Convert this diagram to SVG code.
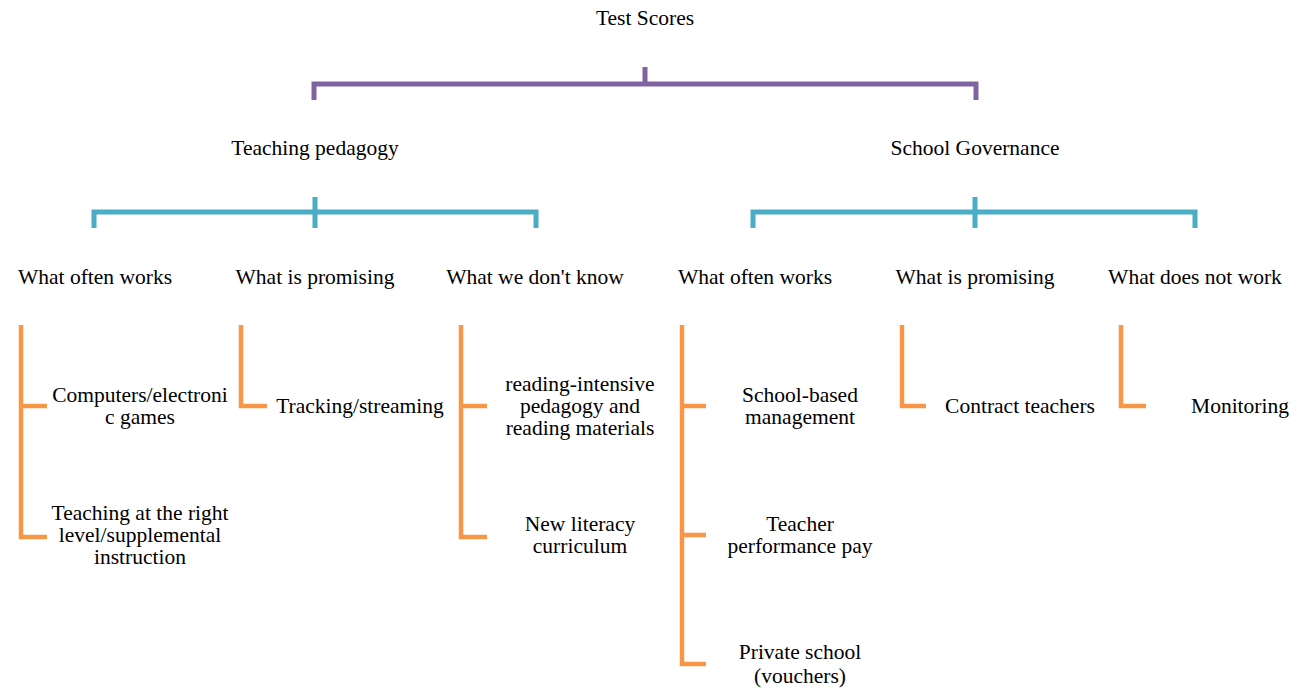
<svg xmlns="http://www.w3.org/2000/svg" width="1298" height="688" viewBox="0 0 1298 688">
<style>
text{font-family:'Liberation Serif','Times New Roman',Times,serif;font-size:21.5px;fill:#000;text-anchor:middle}
.p{fill:none;stroke:#8064A2;stroke-width:5}
.t{fill:none;stroke:#4BACC6;stroke-width:5}
.o{fill:none;stroke:#F79646;stroke-width:4.5}
</style>
<rect width="1298" height="688" fill="#fff"/>
<g id="connectors">
<path class="p" d="M645 67V84M314 100V84H976V100"/>
<path class="t" d="M315 197V228M94 228V212H536V228"/>
<path class="t" d="M975 197V228M753 228V212H1195V228"/>
<path class="o" d="M21 325V537H47M21 406H47"/>
<path class="o" d="M241 325V406H267"/>
<path class="o" d="M461 325V537H487M461 406H487"/>
<path class="o" d="M682 325V664H706M682 406H706M682 535H706"/>
<path class="o" d="M902 325V406H926"/>
<path class="o" d="M1121 325V406H1146"/>
</g>
<g id="root"><text x="645" y="25">Test Scores</text></g>
<g id="teaching"><text x="315" y="155">Teaching pedagogy</text></g>
<g id="governance"><text x="975" y="155">School Governance</text></g>
<g id="tp-works"><text x="95" y="284">What often works</text></g>
<g id="tp-promising"><text x="315" y="284">What is promising</text></g>
<g id="tp-dontknow"><text x="535" y="284">What we don't know</text></g>
<g id="sg-works"><text x="755" y="284">What often works</text></g>
<g id="sg-promising"><text x="975" y="284">What is promising</text></g>
<g id="sg-notwork"><text x="1195" y="284">What does not work</text></g>
<g id="computers"><text x="140" y="402">Computers/electroni</text><text x="140" y="424">c games</text></g>
<g id="tarl"><text x="140" y="520">Teaching at the right</text><text x="140" y="542">level/supplemental</text><text x="140" y="564">instruction</text></g>
<g id="tracking"><text x="360" y="413">Tracking/streaming</text></g>
<g id="reading"><text x="580" y="391">reading-intensive</text><text x="580" y="413">pedagogy and</text><text x="580" y="435">reading materials</text></g>
<g id="literacy"><text x="580" y="531">New literacy</text><text x="580" y="553">curriculum</text></g>
<g id="sbm"><text x="800" y="402">School-based</text><text x="800" y="424">management</text></g>
<g id="perfpay"><text x="800" y="531">Teacher</text><text x="800" y="553">performance pay</text></g>
<g id="private"><text x="800" y="659">Private school</text><text x="800" y="683">(vouchers)</text></g>
<g id="contract"><text x="1020" y="413">Contract teachers</text></g>
<g id="monitoring"><text x="1240" y="413">Monitoring</text></g>
</svg>
